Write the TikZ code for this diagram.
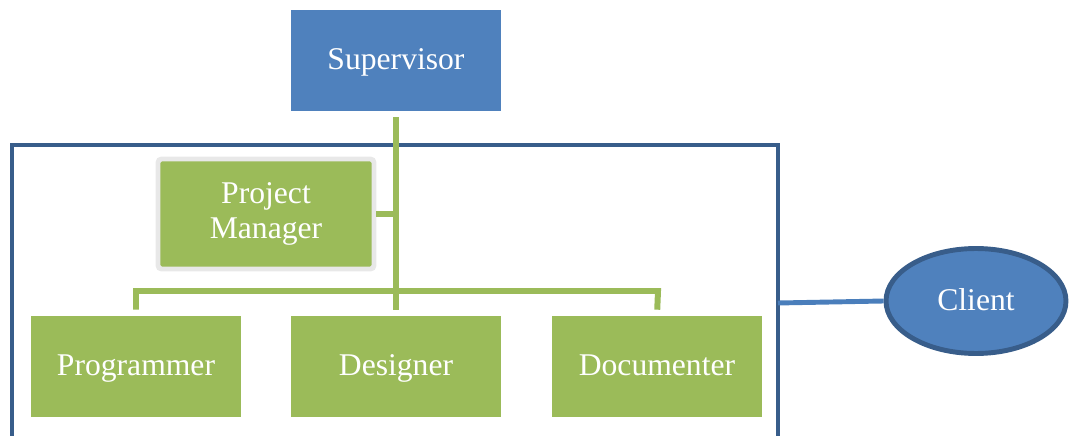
\documentclass[tikz,border=0pt]{standalone}
\usepackage{fontspec}
\setmainfont{Liberation Serif}
\usetikzlibrary{positioning,calc,shapes}
\definecolor{boxBlue}{HTML}{4F81BD}
\definecolor{lineBlue}{HTML}{385D8A}
\definecolor{linkBlue}{HTML}{4A7EBB}
\definecolor{boxGreen}{HTML}{9BBB59}
\tikzstyle{bS}=[rectangle,minimum width=4.2cm,minimum height=2.02cm,inner sep=0pt,fill=boxBlue,text=white,font=\fontsize{18}{19.3}\selectfont,align=center,text height=1.05em,text depth=0pt]
\tikzstyle{gS}=[rectangle,minimum width=4.2cm,minimum height=2.02cm,inner sep=0pt,fill=boxGreen,text=white,font=\fontsize{18}{19.3}\selectfont,align=center,text height=1.05em,text depth=0pt]
\tikzstyle{eTree}=[draw=boxGreen,line width=3.4pt]
\begin{document}
\begin{tikzpicture}[x=0.02cm,y=-0.02cm]
                \useasboundingbox (0,0) rectangle (1069,436);
                \draw (396,60.5) node[bS] (sup) {Supervisor};
                \draw (266,214) node[rectangle,minimum width=4.32cm,minimum height=2.2cm,inner sep=0pt,fill=boxGreen,text=white,font=\fontsize{18}{19.6}\selectfont,align=center,draw=gray!18,line width=2.8pt,rounded corners=2pt] (pm) {Project\\Manager};
                \draw (136,366.5) node[gS] (prog) {Programmer};
                \draw (396,366.5) node[gS] (des) {Designer};
                \draw (657,366.5) node[gS] (doc) {Documenter};
                \draw (976,301) node[ellipse,minimum width=3.6cm,minimum height=2.1cm,inner sep=0pt,fill=boxBlue,draw=lineBlue,line width=2.8pt,text=white,font=\fontsize{18}{19.3}\selectfont,text height=1.05em,text depth=0pt] (cl) {Client};
                % frame round the team
                \coordinate (fBL) at (12,440);
                \coordinate (fTL) at (12,145);
                \coordinate (fTR) at (778,145);
                \coordinate (fBR) at (778,440);
                \coordinate (fCl) at (778,303);
                \coordinate (barL) at (136,291);
                \coordinate (barR) at (658,291);
                \draw[lineBlue,line width=2.8pt,line join=miter] (fBL) -- (fTL) -- (fTR) -- (fBR);
                \path
                    (sup.south) edge[eTree,shorten <=3.4pt,shorten >=3.4pt] (des.north)
                ;
                \draw[eTree] (pm.east) -- (pm.east -| sup.south);
                \draw[eTree,shorten <=3.4pt,shorten >=3.4pt] (prog.north) -- (barL) -- (barR) -- (doc.north);
                \draw[draw=linkBlue,line width=2.8pt] (fCl) -- (cl.west);
        \end{tikzpicture}
\end{document}
